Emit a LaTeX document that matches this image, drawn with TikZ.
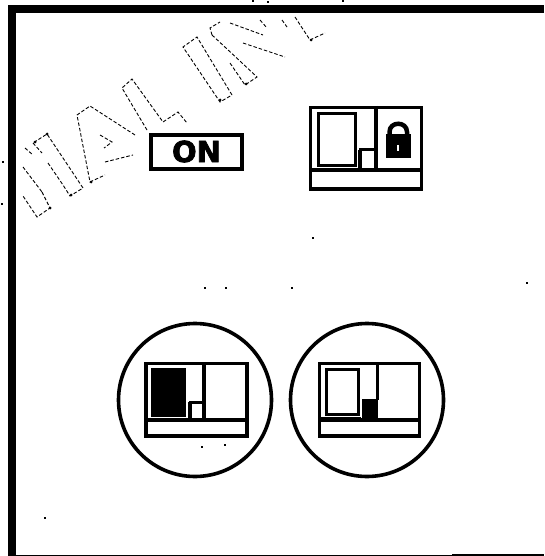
\documentclass[tikz,border=0pt]{standalone}
\usepackage{fontspec}
\newfontfamily\onfont{DejaVu Sans}[BoldFeatures={FakeBold=2.5}]

\begin{document}
\begin{tikzpicture}[x=1pt,y=-1pt,
  heavy/.style={line width=3.6pt},
  medium/.style={line width=3pt},
  thin line/.style={line width=1pt},
  frameline/.style={line width=8pt},
  ghost/.style={line width=0.9pt,dash pattern=on 3.5pt off 2pt},
  speck/.style={fill,inner sep=0pt,minimum size=1.6pt,rectangle},
  blob/.style={fill,inner sep=0pt,minimum size=3pt,circle}]
\useasboundingbox (0,0) rectangle (544,556);

\draw[frameline] (12,556) -- (12,9) -- (544,9);
\draw[line width=0.8pt] (16,555.5) -- (544,555.5);
\draw[line width=1.5pt] (452,555.2) -- (544,555.2);

\draw[ghost] (23,167) -- (42,192);
\draw[ghost] (42,192) -- (50,208) -- (37,217) -- (23,196);
\draw[ghost] (48,163) -- (63,185) -- (70,196) -- (83,188) -- (47,134) -- (33,143);
\draw[ghost] (25,148) -- (33,155);
\draw[ghost] (33,143) -- (42,153);
\draw[ghost] (135,135) -- (90,106) -- (77,115) -- (90,182) -- (105,175);
\draw[ghost] (100,135) -- (112,142) -- (104,148);
\draw[ghost] (105,162) -- (133,155);
\draw[ghost] (147,130) -- (122,88) -- (132,79) -- (163,122) -- (178,112) -- (187,123);
\draw[ghost] (232,95) -- (197,37) -- (183,47) -- (220,102) -- (232,95);
\draw[ghost] (212,35) -- (210,28) -- (220,22);
\draw[ghost] (212,35) -- (257,77) -- (245,85) -- (230,63);
\draw[ghost] (230,23) -- (263,35);
\draw[ghost] (243,43) -- (285,57);
\draw[ghost] (260,20) -- (267,28);
\draw[ghost] (282,20) -- (287,27);
\draw[ghost] (295,17) -- (310,40) -- (325,33);

\node[blob] (b1) at (50,208) {};
\node[blob] (b2) at (71,195) {};
\node[blob] (b3) at (47,134) {};
\node[blob] (b4) at (35,142) {};
\node[blob] (b5) at (91,182) {};
\node[blob] (b6) at (220,100) {};
\node[blob] (b7) at (246,84) {};
\node[blob] (b8) at (311,40) {};

\node (onbox) at (196.5,152) [rectangle,draw,heavy,minimum width=91pt,minimum height=34pt,inner sep=0pt] {};
\node (onlabel) at (196.5,151.5) [inner sep=0pt] {\onfont\bfseries\fontsize{29}{29}\selectfont ON};

\draw[heavy] (310.5,107.5) rectangle (421.5,189);
\draw[heavy] (309,170) -- (421,170);
\draw[heavy] (376,106) -- (376,170);
\draw[medium] (318,114) rectangle (355,165.5);
\draw[thin line] (312,168.5) -- (358,168.5) -- (358,150);
\draw[medium] (360.5,170) -- (360.5,149.5) -- (375,149.5);

\fill (386,134) rectangle (411,158);
\draw[line width=4.5pt] (389.5,136) -- (389.5,132) .. controls (389.5,121) and (407,121) .. (407,132) -- (407,136);
\draw[white,line width=2pt] (397.5,145) -- (397.5,151);

\node (leftring) at (195,400) [circle,draw,heavy,minimum size=153pt,inner sep=0pt] {};
\node (rightring) at (367,400) [circle,draw,heavy,minimum size=153pt,inner sep=0pt] {};

\draw[heavy] (146,363.5) rectangle (247,436);
\draw[heavy] (146,420) -- (247,420);
\draw[heavy] (204,363) -- (204,420);
\fill (151,368) rectangle (186,417);
\draw[thin line] (148,418.5) -- (188,418.5) -- (188,402);
\draw[medium] (190.5,420) -- (190.5,402) -- (203,402);

\draw[heavy] (319.5,363.5) rectangle (419.5,436);
\draw[heavy] (319,420) -- (419,420);
\draw[medium] (377,363) -- (377,400);
\draw[medium] (326.5,369.5) rectangle (358,414);
\draw[thin line] (321,417.5) -- (361,417.5);
\fill (362,399) rectangle (378,420);

\node[speck] (s1) at (205,288) {};
\node[speck] (s2) at (226,288) {};
\node[speck] (s3) at (292,288) {};
\node[speck] (s4) at (313,238) {};
\node[speck] (s5) at (527,283) {};
\node[speck] (s6) at (45,518) {};
\node[speck] (s7) at (202,447) {};
\node[speck] (s8) at (225,445) {};
\node[speck] (s9) at (3,162) {};
\node[speck] (s10) at (2,204) {};
\node[speck] (s11) at (253,1) {};
\node[speck] (s12) at (268,2) {};
\node[speck] (s13) at (343,1) {};

\end{tikzpicture}
\end{document}
